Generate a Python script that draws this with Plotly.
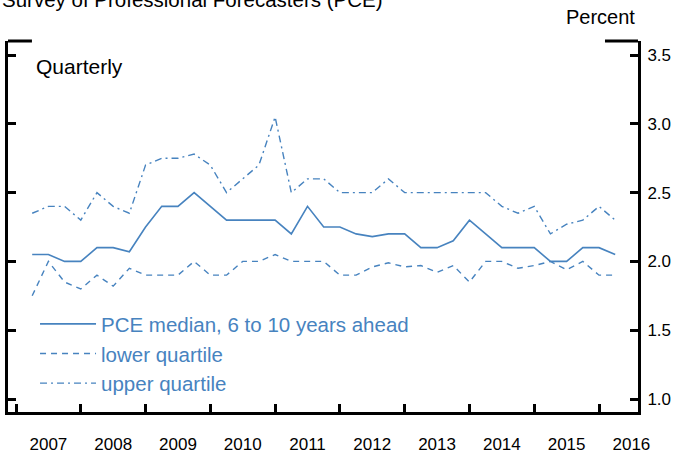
import plotly.graph_objects as go

quarters = ["2007Q2", "2007Q3", "2007Q4", "2008Q1", "2008Q2", "2008Q3", "2008Q4",
            "2009Q1", "2009Q2", "2009Q3", "2009Q4", "2010Q1", "2010Q2", "2010Q3",
            "2010Q4", "2011Q1", "2011Q2", "2011Q3", "2011Q4", "2012Q1", "2012Q2",
            "2012Q3", "2012Q4", "2013Q1", "2013Q2", "2013Q3", "2013Q4", "2014Q1",
            "2014Q2", "2014Q3", "2014Q4", "2015Q1", "2015Q2", "2015Q3", "2015Q4",
            "2016Q1", "2016Q2"]

median = [2.05, 2.05, 2.00, 2.00, 2.10, 2.10, 2.07, 2.25, 2.40, 2.40, 2.50, 2.40,
          2.30, 2.30, 2.30, 2.30, 2.20, 2.40, 2.25, 2.25, 2.20, 2.18, 2.20, 2.20,
          2.10, 2.10, 2.15, 2.30, 2.20, 2.10, 2.10, 2.10, 2.00, 2.00, 2.10, 2.10, 2.05]

lower = [1.75, 2.00, 1.85, 1.80, 1.90, 1.82, 1.95, 1.90, 1.90, 1.90, 2.00, 1.90,
         1.90, 2.00, 2.00, 2.05, 2.00, 2.00, 2.00, 1.90, 1.90, 1.96, 1.99, 1.96,
         1.97, 1.92, 1.97, 1.85, 2.00, 2.00, 1.95, 1.97, 2.00, 1.94, 2.00, 1.90, 1.90]

upper = [2.35, 2.40, 2.40, 2.30, 2.50, 2.40, 2.35, 2.70, 2.75, 2.75, 2.78, 2.70,
         2.50, 2.60, 2.70, 3.05, 2.50, 2.60, 2.60, 2.50, 2.50, 2.50, 2.60, 2.50,
         2.50, 2.50, 2.50, 2.50, 2.50, 2.40, 2.35, 2.40, 2.20, 2.27, 2.30, 2.40, 2.30]

years = [2007, 2008, 2009, 2010, 2011, 2012, 2013, 2014, 2015, 2016]
year_labels = ["2007", "2008", "2009", "2010", "2011", "2012", "2013", "2014", "2015", "2016"]
y_ticks = [1.0, 1.5, 2.0, 2.5, 3.0, 3.5]
y_tick_labels = ["1.0", "1.5", "2.0", "2.5", "3.0", "3.5"]

x = [int(q[:4]) + (int(q[5]) - 1) / 4 for q in quarters]

BLUE = "#4783bf"
FONT = "Liberation Sans, Arial, sans-serif"

fig = go.Figure()
fig.add_trace(go.Scatter(x=x, y=median, mode="lines", name="PCE median, 6 to 10 years ahead",
                         line=dict(color=BLUE, width=1.6)))
fig.add_trace(go.Scatter(x=x, y=lower, mode="lines", name="lower quartile",
                         line=dict(color=BLUE, width=1.4, dash="6px,5px")))
fig.add_trace(go.Scatter(x=x, y=upper, mode="lines", name="upper quartile",
                         line=dict(color=BLUE, width=1.4, dash="7px,4px,2px,4px")))

fig.update_layout(
    width=675, height=454,
    margin=dict(l=8, r=37, t=41, b=42, autoexpand=False),
    paper_bgcolor="white", plot_bgcolor="white",
    font=dict(family=FONT, color="black"),
    showlegend=True,
    legend=dict(x=0.0429, y=0.291, xanchor="left", yanchor="top",
                bgcolor="rgba(0,0,0,0)", font=dict(size=20.5, color=BLUE, family=FONT),
                itemwidth=56, tracegroupgap=0),
    xaxis=dict(range=[2006.8765, 2016.602], showgrid=False, zeroline=False,
               showline=True, linecolor="black", linewidth=3, automargin=False,
               tickmode="array", tickvals=[yr + 0.5 for yr in years], ticktext=year_labels,
               ticks="", tickfont=dict(size=17, family=FONT, color="black"),
               ticklabelstandoff=15,
               minor=dict(tickmode="array", tickvals=years, ticks="inside", ticklen=8,
                          tickwidth=2.5, tickcolor="black", showgrid=False)),
    yaxis=dict(range=[0.9055, 3.602], side="right", showgrid=False, zeroline=False,
               showline=True, linecolor="black", linewidth=3, mirror="ticks", automargin=False,
               tickmode="array", tickvals=y_ticks, ticktext=y_tick_labels,
               ticks="inside", ticklen=8, tickwidth=2.5, tickcolor="black",
               tickfont=dict(size=17, family=FONT, color="black"),
               ticklabelstandoff=3),
)

# top corner caps of the frame
fig.add_shape(type="line", xref="paper", yref="paper", x0=0, x1=0.038, y0=1, y1=1,
              line=dict(color="black", width=3))
fig.add_shape(type="line", xref="paper", yref="paper", x0=0.9476, x1=1, y0=1, y1=1,
              line=dict(color="black", width=3))

fig.add_annotation(text="Survey of Professional Forecasters (PCE)", xref="paper", yref="paper",
                   x=-0.0127, y=1.111, xanchor="left", yanchor="middle", showarrow=False,
                   font=dict(size=20.5, family=FONT, color="black"))
fig.add_annotation(text="Percent", xref="paper", yref="paper",
                   x=0.941, y=1.0649, xanchor="center", yanchor="middle", showarrow=False,
                   font=dict(size=20, family=FONT, color="black"))
fig.add_annotation(text="Quarterly", xref="paper", yref="paper",
                   x=0.041, y=0.930, xanchor="left", yanchor="middle", showarrow=False,
                   font=dict(size=21, family=FONT, color="black"))

fig.write_html("out.html", config={"displayModeBar": False},
               post_script="document.body.style.margin='0';")
